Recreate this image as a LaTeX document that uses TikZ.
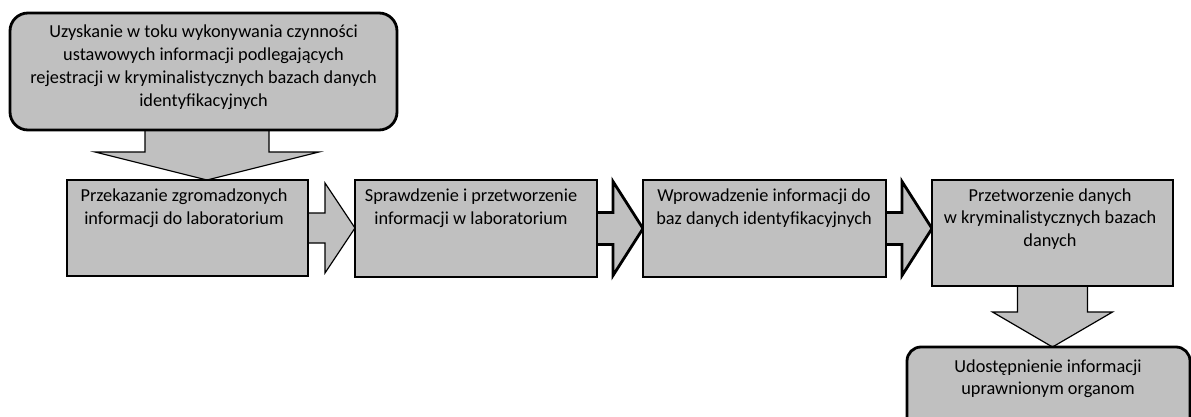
\documentclass[tikz,border=0pt]{standalone}
\usepackage{fontspec}
\setmainfont{Carlito}
\usetikzlibrary{calc}
\definecolor{boxgray}{RGB}{192,192,192}
\begin{document}
\begin{tikzpicture}[x=1pt,y=-1pt,
  blk/.style={fill=boxgray,draw=black,line join=miter},
  thinb/.style={blk,line width=1.2pt},
  thickb/.style={blk,line width=2.8pt},
  boxn/.style={rectangle,inner sep=0pt,outer sep=0pt,anchor=north west},
  txt/.style={font=\fontsize{18.3}{22.8}\selectfont,align=center,inner sep=0pt,anchor=base,text=black}
]
\useasboundingbox (0,0) rectangle (1191,417);
\clip (0,0) rectangle (1191,417);

% boxes (positions only, drawn later on top of arrows)
\path node[boxn,minimum width=387pt,minimum height=117pt] (top) at (10,13) {};
\path node[boxn,minimum width=241pt,minimum height=96pt] (b1) at (67,180) {};
\path node[boxn,minimum width=242pt,minimum height=97pt] (b2) at (355,180) {};
\path node[boxn,minimum width=243pt,minimum height=97pt] (b3) at (643,180) {};
\path node[boxn,minimum width=241pt,minimum height=106pt] (b4) at (932,180) {};
\path node[boxn,minimum width=283pt,minimum height=90pt] (b5) at (907,347) {};

% block arrows
\path let \p1=(top.south), \p2=(b1.north) in
  [thinb] (\x1+3.5pt-62pt,\y1+10pt) -- (\x1+3.5pt-62pt,\y1-22pt) -- (\x1+3.5pt-112pt,\y1-22pt)
  -- (\x1+3.5pt,\y2) -- (\x1+3.5pt+112pt,\y1-22pt) -- (\x1+3.5pt+62pt,\y1-22pt) -- (\x1+3.5pt+62pt,\y1+10pt) -- cycle;

\path let \p1=(b1.east), \p2=(b2.west) in
  [thinb] (\x1-8pt,\y1-15pt) -- (\x2-30pt,\y1-15pt) -- (\x2-30pt,\y1-45pt) -- (\x2,\y1)
  -- (\x2-30pt,\y1+45pt) -- (\x2-30pt,\y1+15pt) -- (\x1-8pt,\y1+15pt) -- cycle;

\path let \p1=(b2.east), \p2=(b3.west) in
  [thickb] (\x1-8pt,\y1-16pt) -- (\x2-30pt,\y1-16pt) -- (\x2-30pt,\y1-47pt) -- (\x2,\y1)
  -- (\x2-30pt,\y1+47pt) -- (\x2-30pt,\y1+16pt) -- (\x1-8pt,\y1+16pt) -- cycle;

\path let \p1=(b3.east), \p2=(b4.west) in
  [thickb] (\x1-8pt,\y1-16pt) -- (\x2-30pt,\y1-16pt) -- (\x2-30pt,\y1-47pt) -- (\x2,\y1)
  -- (\x2-30pt,\y1+47pt) -- (\x2-30pt,\y1+16pt) -- (\x1-8pt,\y1+16pt) -- cycle;

\path let \p1=(b4.south), \p2=(b5.north) in
  [thinb] (\x1-35pt,\y1+8pt) -- (\x1-35pt,\y1-26pt) -- (\x1-60pt,\y1-26pt)
  -- (\x1,\y2) -- (\x1+60pt,\y1-26pt) -- (\x1+35pt,\y1-26pt) -- (\x1+35pt,\y1+8pt) -- cycle;

% draw boxes
\draw[thickb,rounded corners=18pt] (top.north west) rectangle (top.south east);
\draw[thinb] (b1.north west) rectangle (b1.south east);
\draw[thickb] (b2.north west) rectangle (b2.south east);
\draw[thickb] (b3.north west) rectangle (b3.south east);
\draw[thinb] (b4.north west) rectangle (b4.south east);
\draw[thickb,rounded corners=14pt] (b5.north west) rectangle (b5.south east);

% texts (anchor base = baseline of the last line)
\node[txt] (ttop) at (203.5,106.4) {Uzyskanie w toku wykonywania czynności\\ustawowych informacji podlegających\\rejestracji w kryminalistycznych bazach danych\\identyfikacyjnych};
\node[txt] (t1) at (184,224) {Przekazanie zgromadzonych\\informacji do laboratorium};
\node[txt] (t2) at (471,224.3) {Sprawdzenie i przetworzenie\\informacji w laboratorium};
\node[txt] (t3) at (764,224) {Wprowadzenie informacji do\\baz danych identyfikacyjnych};
\node[txt] (t4) at (1050,246.6) {Przetworzenie danych\\w kryminalistycznych bazach\\danych};
\node[txt] (t5) at (1048,394.8) {Udostępnienie informacji\\uprawnionym organom};
\end{tikzpicture}
\end{document}
